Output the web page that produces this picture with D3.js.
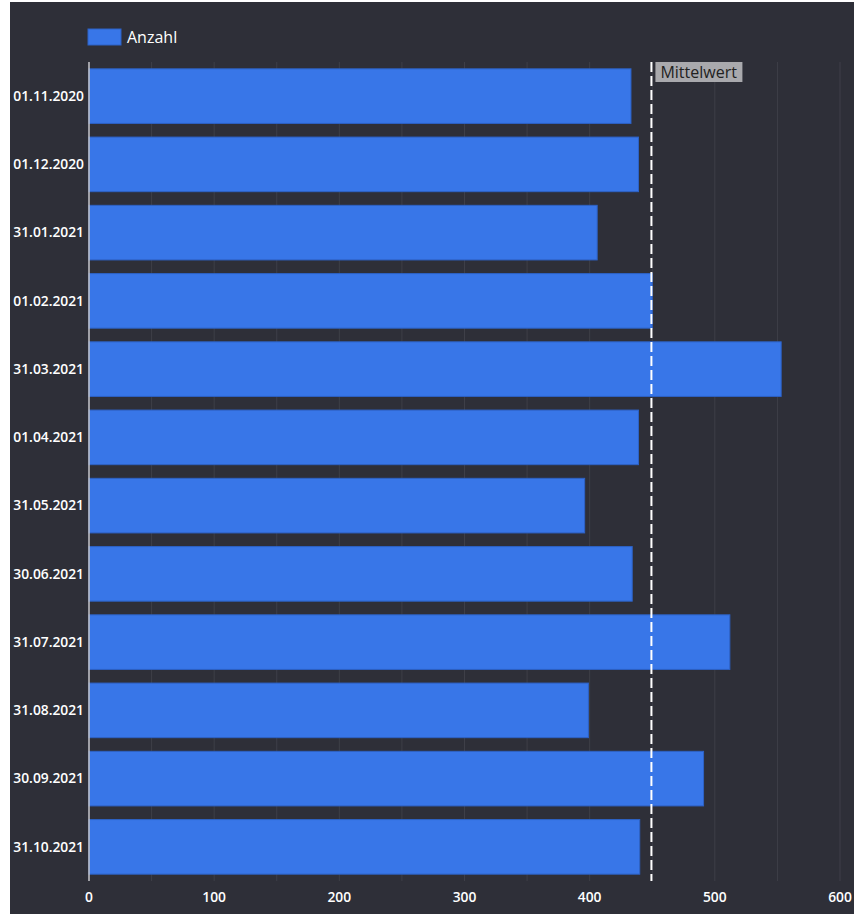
<!DOCTYPE html>
<html>
<head>
<meta charset="utf-8">
<script src="https://cdn.jsdelivr.net/npm/d3@7"></script>
<style>
    body { margin: 0; background: #fff; }
    svg { display: block; }
    text { font-family: "Open Sans", "Noto Sans", sans-serif; }
</style>
</head>
<body>
<div id="chart"></div>
<script>
const dates = ['01.11.2020', '01.12.2020', '31.01.2021', '01.02.2021', '31.03.2021', '01.04.2021',
    '31.05.2021', '30.06.2021', '31.07.2021', '31.08.2021', '30.09.2021', '31.10.2021'];
const anzahl = [433, 439, 406, 450, 553, 439, 396, 434, 512, 399, 491, 440];
const xTicks = [0, 100, 200, 300, 400, 500, 600];
const seriesName = 'Anzahl';
const meanLabel = 'Mittelwert';

const width = 854, height = 914;
const margin = { top: 62, right: 14, bottom: 33, left: 89 };

const svg = d3.select('#chart')
    .append('svg')
    .attr('width', width)
    .attr('height', height);

svg.append('rect')
    .attr('x', 10).attr('y', 2)
    .attr('width', width - 10).attr('height', height - 2)
    .attr('fill', '#2e2f38');

const x = d3.scaleLinear().domain([0, 600]).range([margin.left, width - margin.right]);
const y = d3.scaleBand().domain(dates).range([margin.top, height - margin.bottom])
    .paddingInner(0.2).paddingOuter(0.1);

const rows = dates.map((d, i) => ({ date: d, value: anzahl[i] }));
const mean = d3.mean(anzahl);

// grid lines every 50
svg.append('g')
    .selectAll('line')
    .data(d3.range(50, 601, 50))
    .enter().append('line')
    .attr('x1', d => x(d)).attr('x2', d => x(d))
    .attr('y1', margin.top).attr('y2', height - margin.bottom)
    .attr('stroke', '#3e3f48')
    .attr('stroke-width', 1);

svg.append('g')
    .selectAll('rect')
    .data(rows)
    .enter().append('rect')
    .attr('x', x(0))
    .attr('y', d => y(d.date))
    .attr('width', d => x(d.value) - x(0))
    .attr('height', y.bandwidth())
    .attr('fill', '#3876e8')
    .attr('stroke', '#2d62c6')
    .attr('stroke-width', 1);

// y axis line
svg.append('line')
    .attr('x1', x(0)).attr('x2', x(0))
    .attr('y1', margin.top).attr('y2', height - margin.bottom)
    .attr('stroke', '#c8c8cc')
    .attr('stroke-width', 1.5);

// y labels
svg.append('g')
    .selectAll('text')
    .data(dates)
    .enter().append('text')
    .attr('x', x(0) - 5)
    .attr('y', d => y(d) + y.bandwidth() / 2)
    .attr('dy', '0.35em')
    .attr('text-anchor', 'end')
    .attr('fill', '#fff')
    .attr('font-size', 13.8)
    .attr('font-weight', 600)
    .text(d => d);

// x labels
svg.append('g')
    .selectAll('text')
    .data(xTicks)
    .enter().append('text')
    .attr('x', d => x(d))
    .attr('y', height - 17)
    .attr('dy', '0.35em')
    .attr('text-anchor', 'middle')
    .attr('fill', '#fff')
    .attr('font-size', 13.8)
    .attr('font-weight', 600)
    .text(d => d);

// mean line
svg.append('line')
    .attr('x1', x(mean)).attr('x2', x(mean))
    .attr('y1', margin.top).attr('y2', height - margin.bottom)
    .attr('stroke', '#ffffff')
    .attr('stroke-width', 2)
    .attr('stroke-dasharray', '10,4');

const lbl = svg.append('g').attr('transform', `translate(${x(mean) + 4},${margin.top})`);
lbl.append('rect')
    .attr('width', 87).attr('height', 20)
    .attr('fill', '#a9a9ad');
lbl.append('text')
    .attr('x', 5).attr('y', 10)
    .attr('dy', '0.35em')
    .attr('fill', '#222')
    .attr('font-size', 16)
    .text(meanLabel);

// legend
svg.append('rect')
    .attr('x', 88).attr('y', 29)
    .attr('width', 33).attr('height', 16)
    .attr('fill', '#3876e8')
    .attr('stroke', '#2d62c6');
svg.append('text')
    .attr('x', 127).attr('y', 37)
    .attr('dy', '0.35em')
    .attr('fill', '#fff')
    .attr('font-size', 16)
    .text(seriesName);
</script>
</body>
</html>
